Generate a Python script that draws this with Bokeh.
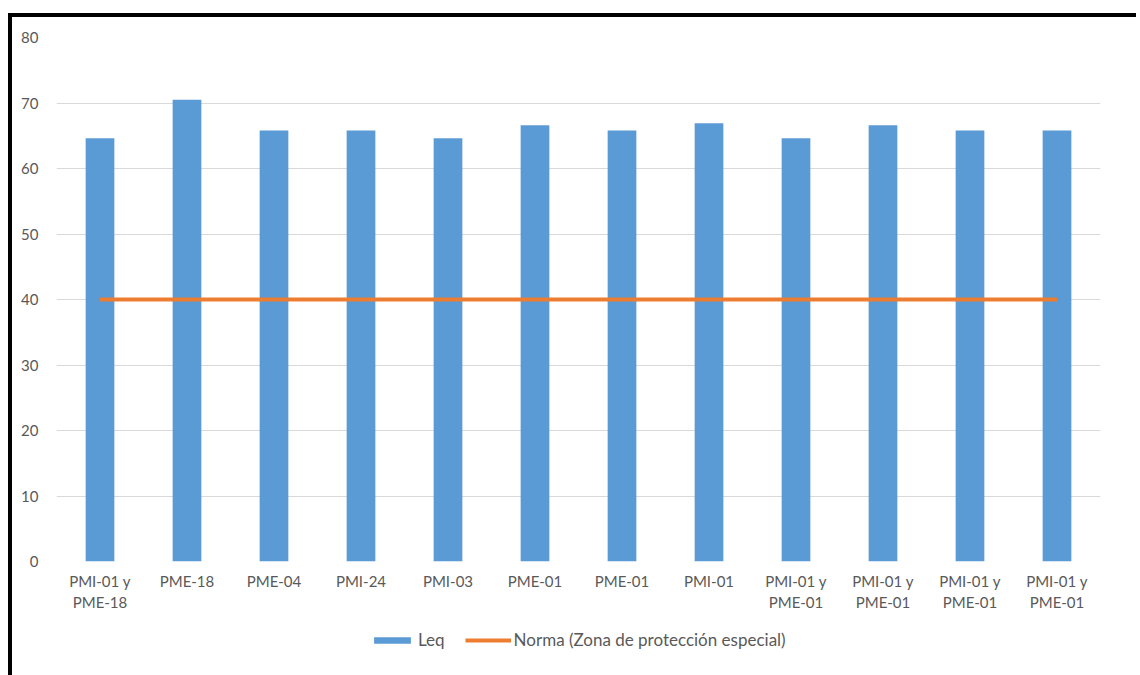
from bokeh.plotting import figure
from bokeh.layouts import column
from bokeh.models import FixedTicker, Legend, LegendItem, ColumnDataSource, Range1d
from bokeh.embed import file_html
from bokeh.resources import INLINE

categories = ["PMI-01 y\nPME-18", "PME-18", "PME-04", "PMI-24", "PMI-03", "PME-01",
              "PME-01", "PMI-01", "PMI-01 y\nPME-01", "PMI-01 y\nPME-01",
              "PMI-01 y\nPME-01", "PMI-01 y\nPME-01"]
leq = [64.6, 70.5, 65.8, 65.8, 64.6, 66.6, 65.8, 66.9, 64.6, 66.6, 65.8, 65.8]
norma = [40, 40, 40, 40, 40, 40, 40, 40, 40, 40, 40, 40]
y_ticks = [0, 10, 20, 30, 40, 50, 60, 70, 80]
series_names = ["Leq", "Norma (Zona de protección especial)"]

BLUE = "#5B9BD5"
ORANGE = "#ED7D31"
FONT = "Lato"
GRAY = "#595959"

xs = list(range(1, len(categories) + 1))
src = ColumnDataSource(dict(x=xs, leq=leq, norma=norma))

# main chart
p = figure(width=1124, height=600, output_backend="svg", toolbar_location=None,
           x_range=Range1d(0.5, len(categories) + 0.5), y_range=Range1d(0, 80),
           min_border_left=44, min_border_right=36, min_border_top=20, min_border_bottom=56)
p.outline_line_color = None

p.vbar(x="x", top="leq", width=0.33, source=src, fill_color=BLUE, line_color=None)
p.line(x="x", y="norma", source=src, line_color=ORANGE, line_width=4)

p.xaxis.ticker = FixedTicker(ticks=xs)
p.xaxis.major_label_overrides = {x: c for x, c in zip(xs, categories)}
p.yaxis.ticker = FixedTicker(ticks=y_ticks)
for ax in (p.xaxis, p.yaxis):
    ax.axis_line_color = None
    ax.major_tick_line_color = None
    ax.minor_tick_line_color = None
    ax.major_label_text_font = FONT
    ax.major_label_text_font_size = "15px"
    ax.major_label_text_color = GRAY
p.yaxis.major_label_standoff = 12
p.xaxis.major_label_standoff = 4
p.xgrid.grid_line_color = None
p.ygrid.grid_line_color = "#D9D9D9"
p.ygrid.grid_line_width = 1

# legend strip: same series, drawn out of view so only the legend shows
lg = figure(width=1124, height=58, output_backend="svg", toolbar_location=None,
            x_range=Range1d(1000, 1001), y_range=Range1d(1000, 1001),
            x_axis_type=None, y_axis_type=None,
            min_border_left=0, min_border_right=0, min_border_top=0, min_border_bottom=0)
lg.outline_line_color = None
lg.xgrid.grid_line_color = None
lg.ygrid.grid_line_color = None
r_bar = lg.vbar(x="x", top="leq", width=0.33, source=src, fill_color=BLUE, line_color=None)
r_line = lg.line(x="x", y="norma", source=src, line_color=ORANGE, line_width=4)

legend = Legend(items=[LegendItem(label=series_names[0], renderers=[r_bar]),
                       LegendItem(label=series_names[1], renderers=[r_line])],
                orientation="horizontal", location=(313, 25))
legend.border_line_color = None
legend.background_fill_alpha = 0
legend.label_text_font = FONT
legend.label_text_font_size = "17px"
legend.label_text_color = GRAY
legend.glyph_width = 46
legend.glyph_height = 8
legend.label_standoff = 3
legend.spacing = 20
legend.margin = 0
legend.padding = 0
lg.add_layout(legend)

layout = column(p, lg, spacing=0)
layout.styles = {"border-top": "4px solid black", "border-left": "4px solid black",
                 "margin-top": "13px", "margin-left": "8px"}

open("out.html", "w").write(file_html(layout, INLINE))
